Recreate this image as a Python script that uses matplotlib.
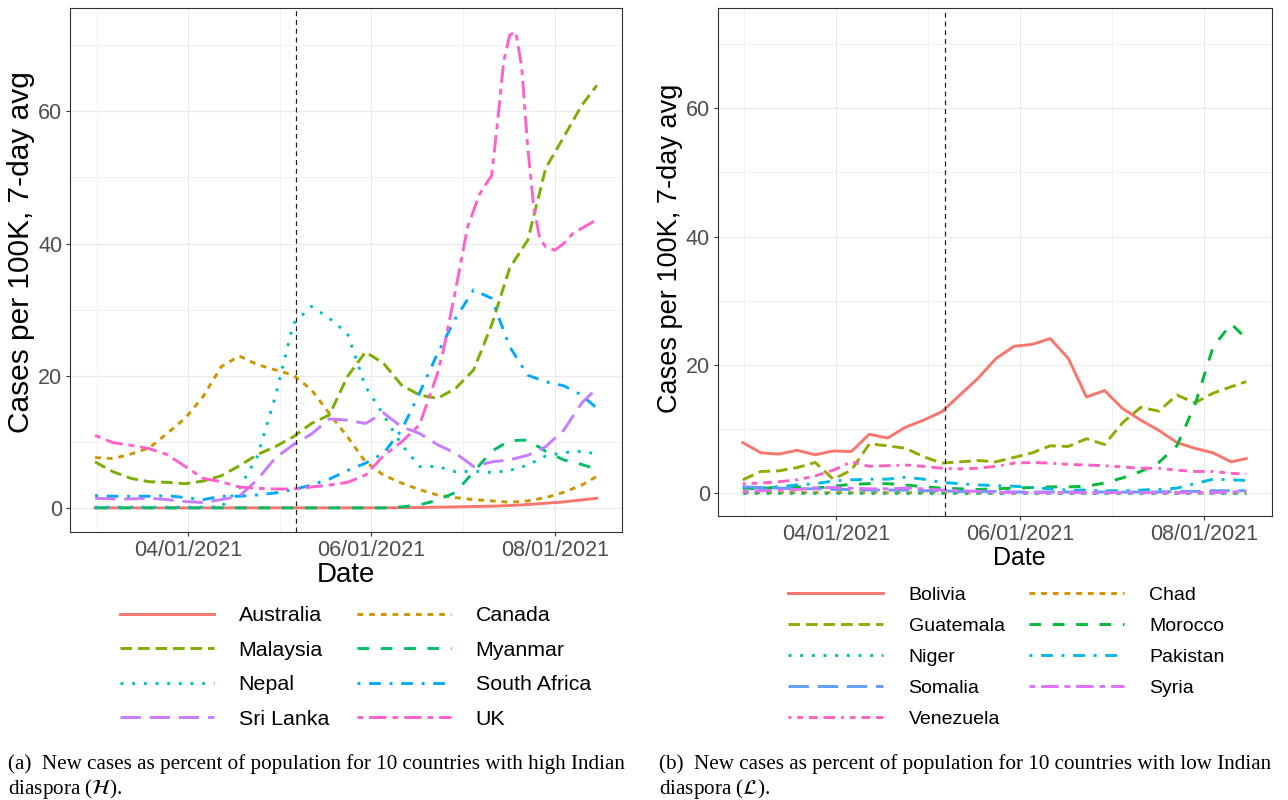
"""Daily new cases per 100K (7-day avg) for high vs low Indian-diaspora countries."""

import matplotlib

matplotlib.use("Agg")
import matplotlib.dates as mdates
import matplotlib.pyplot as plt
import pandas as pd

plt.rcParams["font.family"] = ["Liberation Sans", "DejaVu Sans"]
plt.rcParams["mathtext.fontset"] = "stix"

# shared sampling dates (every 6 days, Mar 1 -> Aug 15 2021)
DATES = [
    "2021-03-01", "2021-03-07", "2021-03-13", "2021-03-19", "2021-03-25", "2021-03-31",
    "2021-04-06", "2021-04-12", "2021-04-18", "2021-04-24", "2021-04-30", "2021-05-06",
    "2021-05-12", "2021-05-18", "2021-05-24", "2021-05-30", "2021-06-05", "2021-06-11",
    "2021-06-17", "2021-06-23", "2021-06-29", "2021-07-05", "2021-07-11", "2021-07-17",
    "2021-07-23", "2021-07-29", "2021-08-04", "2021-08-10", "2021-08-15",
]
# the UK curve is sampled more finely around its July spike
UK_DATES = [
    "2021-03-01", "2021-03-07", "2021-03-13", "2021-03-19", "2021-03-25", "2021-03-31",
    "2021-04-06", "2021-04-12", "2021-04-18", "2021-04-24", "2021-04-30", "2021-05-06",
    "2021-05-12", "2021-05-18", "2021-05-24", "2021-05-30", "2021-06-05", "2021-06-11",
    "2021-06-17", "2021-06-23", "2021-06-25", "2021-06-29", "2021-07-03", "2021-07-07",
    "2021-07-11", "2021-07-13", "2021-07-15", "2021-07-17", "2021-07-19", "2021-07-21",
    "2021-07-23", "2021-07-25", "2021-07-27", "2021-07-29", "2021-08-01", "2021-08-04",
    "2021-08-07", "2021-08-10", "2021-08-15",
]
EVENT_DATE = "2021-05-07"

# panel (a): high Indian diaspora
HIGH_COUNTRIES = ["Australia", "Canada", "Malaysia", "Myanmar", "Nepal",
                  "South Africa", "Sri Lanka", "UK"]
AUSTRALIA = [0.05, 0.05, 0.05, 0.05, 0.05, 0.05, 0.05, 0.05, 0.05, 0.05, 0.05, 0.05,
             0.05, 0.05, 0.05, 0.05, 0.05, 0.08, 0.1, 0.15, 0.2, 0.25, 0.3, 0.4,
             0.55, 0.75, 0.95, 1.25, 1.5]
CANADA = [7.65, 7.5, 8.2, 9.1, 11.3, 13.6, 16.9, 21.4, 23.0, 21.7, 20.9, 20.1,
          17.9, 14.3, 10.8, 7.0, 5.0, 3.8, 2.8, 2.0, 1.6, 1.3, 1.1, 0.9,
          1.1, 1.6, 2.4, 3.5, 4.8]
MALAYSIA = [7.0, 5.5, 4.5, 4.0, 3.9, 3.7, 4.1, 4.9, 6.4, 8.1, 9.3, 10.8,
            12.8, 14.1, 19.9, 23.6, 21.9, 18.6, 17.1, 16.6, 18.1, 20.9, 27.7, 36.3,
            40.5, 51.4, 56.1, 60.9, 63.9]
MYANMAR = [0.05, 0.05, 0.05, 0.05, 0.05, 0.05, 0.05, 0.05, 0.05, 0.05, 0.05, 0.05,
           0.05, 0.05, 0.05, 0.05, 0.05, 0.2, 0.5, 1.2, 2.4, 5.5, 8.6, 10.2,
           10.3, 8.6, 7.3, 6.6, 5.9]
NEPAL = [0.15, 0.15, 0.15, 0.15, 0.15, 0.15, 0.15, 0.2, 3.0, 7.8, 16.9, 27.9,
         30.5, 28.7, 26.4, 18.4, 14.1, 9.6, 6.3, 6.3, 5.5, 5.6, 5.4, 5.7,
         6.5, 7.9, 8.4, 8.6, 8.2]
SOUTH_AFRICA = [1.9, 1.8, 1.8, 1.8, 1.9, 1.6, 1.3, 1.8, 1.8, 2.0, 2.3, 2.8,
                3.5, 4.4, 5.7, 6.8, 8.3, 11.8, 17.4, 23.4, 28.7, 33.0, 31.7, 24.4,
                20.1, 19.1, 18.5, 17.1, 15.1]
SRI_LANKA = [1.5, 1.4, 1.4, 1.5, 1.3, 1.0, 0.85, 1.3, 1.8, 4.3, 7.6, 9.6,
             11.2, 13.5, 13.3, 12.8, 14.4, 12.3, 11.3, 9.6, 8.3, 6.3, 7.0, 7.3,
             8.0, 9.3, 11.8, 15.9, 18.1]
UK = [11.0, 9.9, 9.5, 9.0, 8.1, 6.3, 4.5, 4.0, 3.2, 3.0, 2.9, 2.9,
      3.2, 3.5, 3.9, 5.0, 7.9, 10.0, 12.6, 20.4, 24.0, 33.0, 42.5, 47.5,
      50.3, 58.5, 67.5, 71.5, 72.0, 66.7, 54.6, 45.6, 40.8, 39.5, 39.0, 40.0,
      41.5, 42.3, 43.6]

# panel (b): low Indian diaspora
LOW_COUNTRIES = ["Bolivia", "Chad", "Guatemala", "Morocco", "Niger",
                 "Pakistan", "Somalia", "Syria", "Venezuela"]
BOLIVIA = [7.9, 6.3, 6.1, 6.7, 6.0, 6.6, 6.5, 9.2, 8.6, 10.3, 11.4, 12.7,
           15.3, 17.9, 21.0, 22.9, 23.2, 24.1, 21.0, 15.0, 16.0, 13.2, 11.4, 9.8,
           7.9, 7.0, 6.3, 4.9, 5.4]
CHAD = [0.1, 0.1, 0.1, 0.1, 0.1, 0.1, 0.1, 0.1, 0.1, 0.1, 0.1, 0.1,
        0.1, 0.05, 0.05, 0.05, 0.05, 0.05, 0.05, 0.05, 0.05, 0.05, 0.05, 0.05,
        0.05, 0.05, 0.05, 0.05, 0.05]
GUATEMALA = [2.1, 3.4, 3.5, 4.0, 4.8, 2.2, 3.6, 7.7, 7.4, 7.0, 5.7, 4.7,
             4.9, 5.1, 4.9, 5.6, 6.3, 7.4, 7.3, 8.5, 7.6, 11.0, 13.4, 12.8,
             15.3, 14.1, 15.6, 16.6, 17.4]
MOROCCO = [0.8, 0.7, 1.0, 1.0, 0.8, 1.1, 1.4, 1.5, 1.5, 1.3, 1.0, 0.8,
           0.7, 0.6, 0.7, 0.8, 0.9, 1.0, 1.0, 1.1, 1.6, 2.4, 3.4, 4.8,
           7.4, 13.8, 22.8, 26.4, 24.1]
NIGER = [0.05, 0.05, 0.05, 0.05, 0.05, 0.05, 0.05, 0.05, 0.05, 0.05, 0.05, 0.05,
         0.05, 0.05, 0.05, 0.05, 0.05, 0.05, 0.05, 0.05, 0.05, 0.05, 0.05, 0.05,
         0.05, 0.05, 0.05, 0.05, 0.05]
PAKISTAN = [1.0, 0.8, 1.0, 1.3, 1.5, 1.9, 2.1, 2.2, 2.2, 2.5, 2.2, 1.7,
            1.5, 1.3, 1.2, 1.1, 0.9, 0.7, 0.5, 0.5, 0.4, 0.4, 0.5, 0.6,
            0.8, 1.5, 2.2, 2.1, 2.0]
SOMALIA = [1.0, 0.9, 0.8, 0.7, 0.7, 0.6, 0.6, 0.5, 0.5, 0.5, 0.4, 0.4,
           0.3, 0.3, 0.3, 0.2, 0.2, 0.2, 0.2, 0.2, 0.2, 0.2, 0.2, 0.2,
           0.3, 0.3, 0.4, 0.4, 0.4]
SYRIA = [0.3, 0.4, 0.5, 0.6, 0.8, 0.9, 0.8, 0.7, 0.7, 0.8, 0.7, 0.5,
         0.4, 0.3, 0.2, 0.1, 0.1, 0.1, 0.1, 0.1, 0.1, 0.1, 0.1, 0.1,
         0.1, 0.1, 0.1, 0.2, 0.3]
VENEZUELA = [1.5, 1.6, 1.8, 2.1, 2.7, 3.6, 4.9, 4.2, 4.3, 4.4, 4.2, 3.9,
             3.8, 3.9, 4.2, 4.7, 4.8, 4.7, 4.5, 4.4, 4.3, 4.1, 3.9, 3.9,
             3.6, 3.4, 3.4, 3.1, 3.0]

# ggplot2 default hue palettes for 8 and 9 levels
HIGH_COLORS = ["#F8766D", "#CD9600", "#7CAE00", "#00BE67", "#00BFC4",
               "#00A9FF", "#C77CFF", "#FF61CC"]
LOW_COLORS = ["#F8766D", "#D39200", "#93AA00", "#00BA38", "#00C19F",
              "#00B9E3", "#619CFF", "#DB72FB", "#FF61C3"]
# ggplot2 linetype sequence: solid, 22, 42, 44, 13, 1343, 73, 2262, 12223242
LINESTYLES = ["solid", (0, (2, 2)), (0, (4, 2)), (0, (4, 4)), (0, (1, 3)),
              (0, (1, 3, 4, 3)), (0, (7, 3)), (0, (2, 2, 6, 2)),
              (0, (1, 2, 2, 2, 3, 2, 4, 2))]

MAJOR_X = ["2021-04-01", "2021-06-01", "2021-08-01"]
MINOR_X = ["2021-03-01 12:00", "2021-05-01 12:00", "2021-07-01 12:00"]
XLIM = ("2021-02-20 15:00", "2021-08-23 09:00")
YLIM = (-3.6, 75.6)

TICK_GREY = "#4D4D4D"
GRID = "#EBEBEB"


def style_axes(ax, tick_size, title_size, ylabel_size):
    ax.set_xlim(pd.to_datetime(XLIM[0]), pd.to_datetime(XLIM[1]))
    ax.set_ylim(*YLIM)
    ax.set_xticks(pd.to_datetime(MAJOR_X))
    ax.set_xticks(pd.to_datetime(MINOR_X), minor=True)
    ax.xaxis.set_major_formatter(mdates.DateFormatter("%m/%d/%Y"))
    ax.set_yticks([0, 20, 40, 60])
    ax.set_yticks([10, 30, 50, 70], minor=True)
    ax.grid(which="major", color=GRID, lw=0.9)
    ax.grid(which="minor", color=GRID, lw=0.5)
    ax.set_axisbelow(True)
    ax.tick_params(which="major", length=3, width=0.8, color="#333333",
                   labelsize=tick_size, labelcolor=TICK_GREY, pad=2.5)
    ax.tick_params(which="minor", length=0)
    for spine in ax.spines.values():
        spine.set_color("#333333")
        spine.set_linewidth(0.8)
    ax.set_xlabel("Date", fontsize=title_size, labelpad=1)
    ax.set_ylabel("Cases per 100K, 7-day avg", fontsize=ylabel_size, labelpad=2)
    ax.axvline(pd.to_datetime(EVENT_DATE), color="#222222", lw=0.9, ls=(0, (4, 3)))


fig = plt.figure(figsize=(12.88, 8.0), dpi=100)
ax_h = fig.add_axes([0.0543, 0.335, 0.4286, 0.655])
ax_l = fig.add_axes([0.5571, 0.3545, 0.4301, 0.6355])

high_series = [AUSTRALIA, CANADA, MALAYSIA, MYANMAR, NEPAL, SOUTH_AFRICA, SRI_LANKA, UK]
high_lines = {}
for i, (name, vals) in enumerate(zip(HIGH_COUNTRIES, high_series)):
    dates = pd.to_datetime(UK_DATES if name == "UK" else DATES)
    (line,) = ax_h.plot(dates, vals, color=HIGH_COLORS[i], ls=LINESTYLES[i], lw=2.1,
                        label=name)
    high_lines[name] = line

low_series = [BOLIVIA, CHAD, GUATEMALA, MOROCCO, NIGER, PAKISTAN, SOMALIA, SYRIA, VENEZUELA]
low_lines = {}
for i, (name, vals) in enumerate(zip(LOW_COUNTRIES, low_series)):
    (line,) = ax_l.plot(pd.to_datetime(DATES), vals, color=LOW_COLORS[i],
                        ls=LINESTYLES[i], lw=2.1, label=name)
    low_lines[name] = line

style_axes(ax_h, 15.5, 20, 21.5)
style_axes(ax_l, 15.5, 18, 19.5)
# titles sit a little off the panel centre in the reference
ax_h.yaxis.label.set_y(0.535)
ax_l.yaxis.label.set_y(0.527)
ax_l.xaxis.label.set_x(0.545)

# ggplot fills the legend by row; matplotlib fills by column, so reorder
h_order = ["Australia", "Malaysia", "Nepal", "Sri Lanka",
           "Canada", "Myanmar", "South Africa", "UK"]
fig.legend([high_lines[n] for n in h_order], h_order, ncol=2, loc="upper left",
           bbox_to_anchor=(0.0932, 0.242), frameon=False, fontsize=15.4,
           borderpad=0, borderaxespad=0, handlelength=4.4, handletextpad=1.15,
           columnspacing=1.3, labelspacing=0.72)

l_order = ["Bolivia", "Guatemala", "Niger", "Somalia", "Venezuela",
           "Chad", "Morocco", "Pakistan", "Syria"]
fig.legend([low_lines[n] for n in l_order], l_order, ncol=2, loc="upper left",
           bbox_to_anchor=(0.6118, 0.267), frameon=False, fontsize=14,
           borderpad=0, borderaxespad=0, handlelength=4.9, handletextpad=1.3,
           columnspacing=1.25, labelspacing=0.69)

cap_font = {"family": ["Liberation Serif", "DejaVu Serif"], "fontsize": 15.2}
fig.text(0.006, 0.028, "(a)  New cases as percent of population for 10 countries with high Indian\n"
         r"diaspora ($\mathcal{H}$).", va="center", ha="left", linespacing=1.2, **cap_font)
fig.text(0.512, 0.028, "(b)  New cases as percent of population for 10 countries with low Indian\n"
         r"diaspora ($\mathcal{L}$).", va="center", ha="left", linespacing=1.2, **cap_font)

fig.savefig("out.png", dpi=100)
